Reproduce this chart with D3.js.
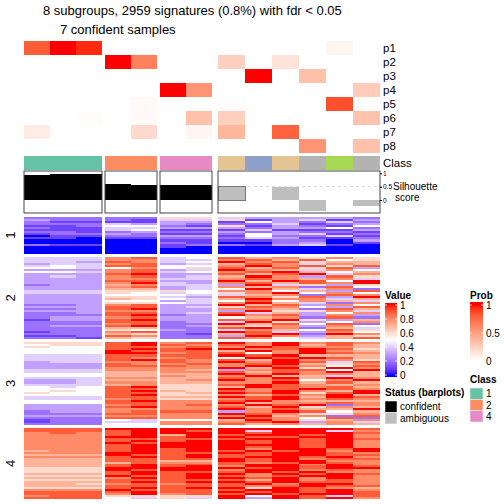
<!DOCTYPE html>
<html><head><meta charset="utf-8">
<script src="https://cdn.jsdelivr.net/npm/d3@7"></script>
<style>body{margin:0;background:#fff} svg{display:block;font-family:"Liberation Sans",Arial,Helvetica,sans-serif}</style>
</head><body><svg id="c" width="504" height="504"></svg>
<script>
// ---------------- DATA ----------------
const titleLines = ["8 subgroups, 2959 signatures (0.8%) with fdr < 0.05", "7 confident samples"];
const columnGroups = [0,0,0,1,1,2,2,3,3,3,3,3,3];
const classLabels = ["1","1","1","2","2","4","4","7","3","7","8","5","8"];
const probNames = ["p1","p2","p3","p4","p5","p6","p7","p8"];
const p1 = [0.8,1,0.95,0,0,0,0,0,0,0,0,0.05,0];
const p2 = [0,0,0,1,0.65,0,0,0.25,0,0.15,0,0,0];
const p3 = [0,0,0,0,0,0,0,0,1,0,0.33,0,0];
const p4 = [0,0,0,0,0,1,0.55,0,0,0,0,0,0.27];
const p5 = [0,0,0,0,0.03,0,0,0.01,0,0,0,0.85,0];
const p6 = [0,0,0.01,0,0.03,0,0.33,0.25,0,0,0,0,0.32];
const p7 = [0.1,0,0,0,0.2,0,0.05,0.38,0,0.78,0,0,0];
const p8 = [0,0,0,0,0,0,0,0,0,0,0.55,0,0.33];
const silhouette = [0.94,0.97,0.97,0.6,0.56,0.56,0.56,0.52,0,0.5,-0.41,0,-0.22];
const confident = [true,true,true,true,true,true,true,false,false,false,false,false,false];
const silTicks = [0,0.5,1];
const valueTicks = [0,0.2,0.4,0.6,0.8,1];
const probTicks = [0,0.5,1];
const legendClasses = ["1","2","4"];
const sliceLabels = ["1","2","3","4"];
// heatmap rows: one char per sample, value = hex digit / 10
const slice1 = ["2222266433332","3222144613413","2111133153242","2224332224123","1125521613215","2114433323352","1114511141113","2212322323221","1223211253412","0112233152241","1101122243112","0000011112203","0000021002301","2110012213410","0000010000000","0000000000000","0000000000000","0000000000000"];
const slice2 = ["4448945978686","4448844897956","4439845a89677","3448934798487","45499558a8969","5545856979693","3338934a87485","554894589a757","3339a33979a48","34389347a8396","3338844898784","3339933a7a95a","3338a4389798a","23378443a4636","3338934878295","33377345a7482","4446665885739","444654568a585","3335554478298","333664398693a","33376547a8847","3335534595874","33366548a7428","2238933a79385","3339934698539","2239a33887297","33388333a6684","2239934947358","2229a23a89383","2338933578292","1339a3398a637","22299234a6358","2228922a79592","2339a23768385","22277229a8274","2226532487596","1228922a94385","222762179a2a8","11298223a8376","2217622985479"];
const slice3 = ["6669a89a8a898","5669a9898a797","65599898a9887","5559a9aa89a96","555a9997a8a87","555aa89958a98","4449999a9a777","44498895a9a97","4449a9897a886","3448898a8a949","333988989a768","33399988a9859","3338888a7a6a8","444888738995a","44477889798a7","5557777a8a887","55577878a7747","444887798a7a8","3347778a8958a","334887788a797","44478669a9878","5459a667a9897","5559966a89a98","5659a7698a87a","6559967a9a69a","5559a668798a7","4449977a9a7a9","444896689a898","5559a889a8777","5559988a78898","33389898a9a28","3339a8897a687","3338888a8977a","233899938a957","2229988a98668","33388888a7829","2229988a98592","12254557a8678","122448889a384","2225588978787"];
const slice4 = ["999aaaaaaaaa9","9999aa9a4aa48","8989aaaa9aaa9","8889a7a9aa9a8","888aa9aa99aa8","88899999aa9a9","8889a9aa9a9a8","888a9aaa9a9a8","8889aaaaaa9a8","8889aaaa9a9a8","8889a9aa8aa9a","7889a9a9a9a8a","888aa99a9aa98","777a99a99aa99","8889a9a9aa9a8","7779999a9a899","7779977a9aa88","7777988989a98","7779a999aa8a8","7779a9a8aa9a9","666aaaaa9a9aa","666a9aa8aa898","6669a999a9a88","7779a9aa8a9a9","666a99a989aa8","7778a9aa9a8a8","666999997a898","7779a9aa9a998","77689899a8aa8","7779999989a99","6669a9aa6a987","888a9999aa9a8","9999a99a9a9a9","9998a899a9aa9","8996666a5a949","9995464a3a9a8"];

// ---------------- SETUP ----------------
const svg = d3.select("#c");
const set2 = {"1":"#66C2A5","2":"#FC8D62","3":"#8DA0CB","4":"#E78AC3","5":"#A6D854","6":"#FFD92F","7":"#E5C494","8":"#B3B3B3"};
const valueColor = d3.scaleLinear().domain([0,0.5,1]).range(["#0000FF","#FFFFFF","#FF0000"]).interpolate(d3.interpolateLab);
const probColor = d3.scaleLinear().domain([0,1]).range(["#FFFFFF","#FF0000"]).interpolate(d3.interpolateLab);

const groupExtents = [[24,102],[105,157],[160,212],[218,380]];
const groupScales = groupExtents.map((ext,g) => d3.scaleBand()
  .domain(d3.range(columnGroups.length).filter(i => columnGroups[i]===g)).range(ext));
const xPos = i => groupScales[columnGroups[i]](i);
const xW = i => groupScales[columnGroups[i]].bandwidth();

// title
svg.append("text").attr("x",43).attr("y",14.5).attr("font-size",13).text(titleLines[0]);
svg.append("text").attr("x",60).attr("y",33.5).attr("font-size",13).text(titleLines[1]);

// ---------------- PROB ANNOTATION ----------------
const probs = [p1,p2,p3,p4,p5,p6,p7,p8];
const yProb = d3.scaleBand().domain(probNames).range([41,153]);
const gProb = svg.append("g").attr("shape-rendering","crispEdges");
probs.forEach((arr,k) => {
  gProb.selectAll(null).data(arr).join("rect")
    .attr("x",(d,i)=>xPos(i)).attr("width",(d,i)=>xW(i))
    .attr("y",yProb(probNames[k])).attr("height",yProb.bandwidth())
    .attr("fill",d=>probColor(d));
});
svg.selectAll(null).data(probNames).join("text")
  .attr("x",383).attr("y",d=>yProb(d)+yProb.bandwidth()/2).attr("dy","0.35em")
  .attr("font-size",11.5).text(d=>d);

// class row
gProb.selectAll(null).data(classLabels).join("rect")
  .attr("x",(d,i)=>xPos(i)).attr("width",(d,i)=>xW(i))
  .attr("y",156).attr("height",14).attr("fill",d=>set2[d]);
svg.append("text").attr("x",383).attr("y",163).attr("dy","0.35em").attr("font-size",11.5).text("Class");

// ---------------- SILHOUETTE ----------------
const ySil = d3.scaleLinear().domain([0,1]).range([200,173.3]);
const gSil = svg.append("g");
groupExtents.forEach(ext => {
  gSil.append("line").attr("x1",ext[0]).attr("x2",ext[1]).attr("y1",ySil(0.5)).attr("y2",ySil(0.5))
    .attr("stroke","#cccccc").attr("stroke-dasharray","3,3").attr("stroke-width",0.8);
});
gSil.selectAll(null).data(silhouette).join("rect")
  .attr("shape-rendering","crispEdges")
  .attr("x",(d,i)=>xPos(i)).attr("width",(d,i)=>xW(i))
  .attr("y",d=>ySil(Math.max(0,d))).attr("height",d=>Math.abs(ySil(0)-ySil(d)))
  .attr("fill",(d,i)=>confident[i]?"#000000":"#BEBEBE")
  .attr("stroke",(d,i)=>i===7?"#777777":"none").attr("stroke-width",1);
groupExtents.forEach(ext => {
  gSil.append("rect").attr("x",ext[0]).attr("y",171).attr("width",ext[1]-ext[0]).attr("height",42)
    .attr("fill","none").attr("stroke","#444444").attr("stroke-width",1);
});
const silAxis = svg.append("g").attr("transform","translate(380,0)")
  .call(d3.axisRight(ySil).tickValues(silTicks).tickSize(2).tickPadding(1).tickFormat(d3.format("")));
silAxis.select(".domain").remove();
silAxis.selectAll("text").attr("font-size",6.5).attr("font-family","Liberation Sans, Arial, sans-serif");
svg.append("text").attr("x",393).attr("y",190).attr("font-size",10).text("Silhouette");
svg.append("text").attr("x",395).attr("y",201).attr("font-size",10).text("score");

// ---------------- HEATMAP ----------------
const slices = [
  {rows:slice1, y0:216.5, y1:254},
  {rows:slice2, y0:257, y1:339},
  {rows:slice3, y0:342, y1:425},
  {rows:slice4, y0:428, y1:499}
];
const gHm = svg.append("g").attr("shape-rendering","crispEdges");
slices.forEach((s,si) => {
  const yS = d3.scaleBand().domain(d3.range(s.rows.length)).range([s.y0,s.y1]);
  s.rows.forEach((row,ri) => {
    const vals = row.split("").map(c => parseInt(c,16)/10);
    gHm.selectAll(null).data(vals).join("rect")
      .attr("x",(d,i)=>xPos(i)).attr("width",(d,i)=>xW(i))
      .attr("y",yS(ri)).attr("height",yS.bandwidth()+0.4)
      .attr("fill",d=>valueColor(d));
  });
  const cy = (s.y0+s.y1)/2;
  svg.append("text").attr("transform",`translate(15,${cy}) rotate(-90)`)
    .attr("text-anchor","middle").attr("font-size",13).text(sliceLabels[si]);
});

// ---------------- LEGENDS ----------------
function gradLegend(x, w, yTop, yBot, scale, color, ticks, fmt) {
  const g = svg.append("g");
  for (let y = yTop; y < yBot; y += 1) {
    const v = Math.max(0, Math.min(1, scale.invert(y+0.5)));
    g.append("rect").attr("x",x).attr("y",y).attr("width",w).attr("height",1.2)
      .attr("fill",color(v)).attr("shape-rendering","crispEdges");
  }
  ticks.forEach(t => {
    g.append("line").attr("x1",x).attr("x2",x+2).attr("y1",scale(t)).attr("y2",scale(t)).attr("stroke","#fff").attr("stroke-width",0.8);
    g.append("line").attr("x1",x+w-2).attr("x2",x+w).attr("y1",scale(t)).attr("y2",scale(t)).attr("stroke","#fff").attr("stroke-width",0.8);
  });
  g.selectAll(null).data(ticks).join("text")
    .attr("x",x+w+3).attr("y",d=>scale(d)).attr("dy","0.35em").attr("font-size",10)
    .text(fmt);
}
svg.append("text").attr("x",385).attr("y",295).attr("dy","0.35em").attr("font-size",10).attr("font-weight","bold").text("Value");
gradLegend(385, 12, 303, 377, d3.scaleLinear().domain([0,1]).range([375,305]), valueColor, valueTicks, d=>String(d));
svg.append("text").attr("x",470).attr("y",295).attr("dy","0.35em").attr("font-size",10).attr("font-weight","bold").text("Prob");
gradLegend(470, 13, 302, 363, d3.scaleLinear().domain([0,1]).range([361,305]), probColor, probTicks, d=>String(d));

svg.append("text").attr("x",385).attr("y",392).attr("dy","0.35em").attr("font-size",10).attr("font-weight","bold").text("Status (barplots)");
const statusItems = [{label:"confident",fill:"#000000"},{label:"ambiguous",fill:"#BEBEBE"}];
const yStat = d3.scaleBand().domain(statusItems.map(d=>d.label)).range([401,424]);
svg.selectAll(null).data(statusItems).join("rect")
  .attr("x",385).attr("width",12).attr("y",d=>yStat(d.label)).attr("height",yStat.bandwidth())
  .attr("fill",d=>d.fill).attr("stroke","#fff").attr("stroke-width",0.5);
svg.selectAll(null).data(statusItems).join("text")
  .attr("x",400).attr("y",d=>yStat(d.label)+yStat.bandwidth()/2).attr("dy","0.35em").attr("font-size",10).text(d=>d.label);

svg.append("text").attr("x",470).attr("y",379).attr("dy","0.35em").attr("font-size",10).attr("font-weight","bold").text("Class");
const yCls = d3.scaleBand().domain(legendClasses).range([388,422]);
svg.selectAll(null).data(legendClasses).join("rect")
  .attr("x",470).attr("width",13).attr("y",d=>yCls(d)).attr("height",yCls.bandwidth())
  .attr("fill",d=>set2[d]).attr("stroke","#fff").attr("stroke-width",0.5);
svg.selectAll(null).data(legendClasses).join("text")
  .attr("x",486).attr("y",d=>yCls(d)+yCls.bandwidth()/2).attr("dy","0.35em").attr("font-size",10).text(d=>d);
</script></body></html>
